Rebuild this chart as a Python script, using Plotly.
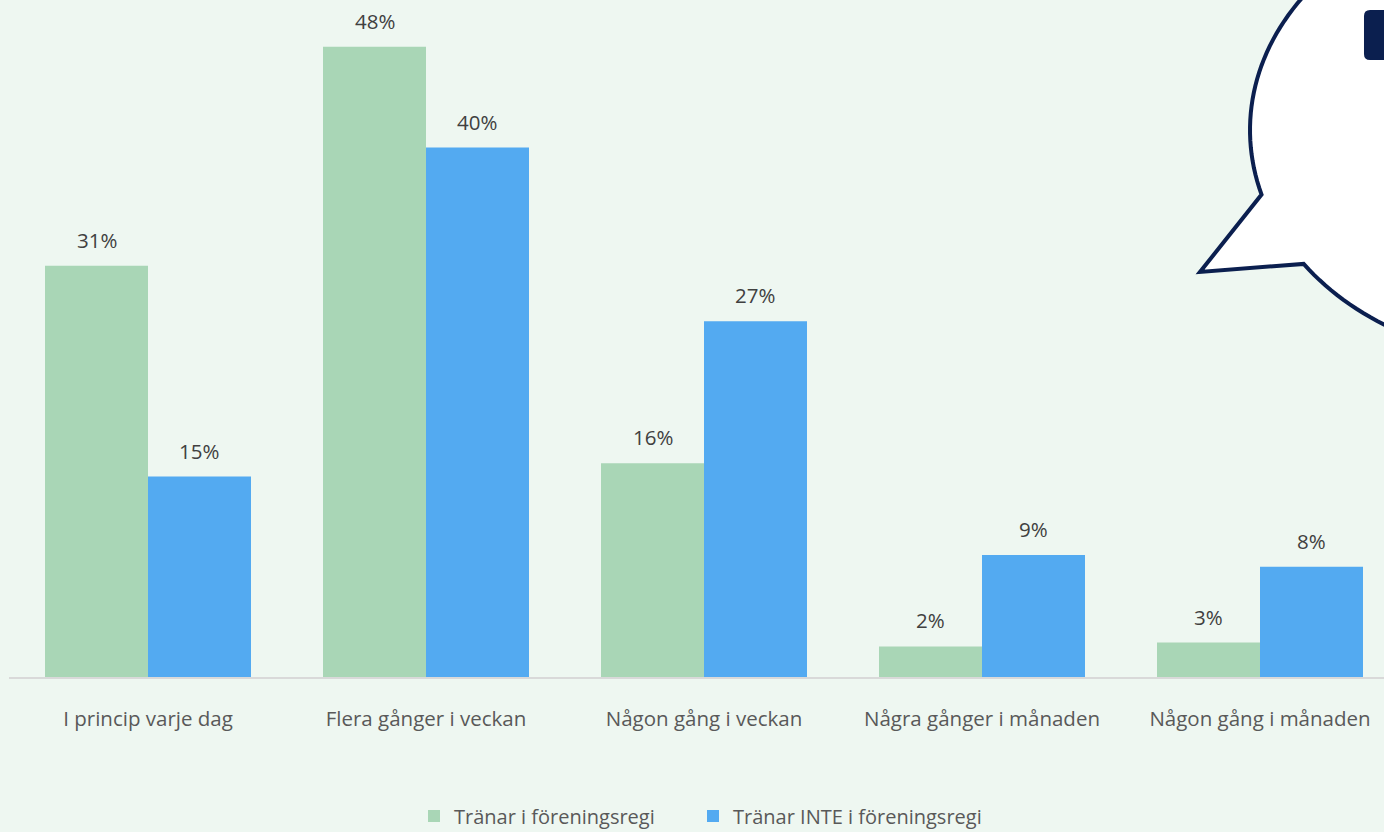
import numpy as np
import plotly.graph_objects as go

categories = ["I princip varje dag", "Flera gånger i veckan", "Någon gång i veckan",
              "Några gånger i månaden", "Någon gång i månaden"]
series_names = ["Tränar i föreningsregi", "Tränar INTE i föreningsregi"]
values_forening = [31.0, 47.5, 16.1, 2.3, 2.6]
values_inte = [15.1, 39.9, 26.8, 9.2, 8.3]
labels_forening = ["31%", "48%", "16%", "2%", "3%"]
labels_inte = ["15%", "40%", "27%", "9%", "8%"]

GREEN = "#A9D6B6"
BLUE = "#53AAF1"
BG = "#EEF7F1"
NAVY = "#0B1F4F"
FONT = "Open Sans, sans-serif"

W, H = 1384, 832
ML, MR, MT, MB = 9, 0, 0, 155
PW, PH = W - ML - MR, H - MT - MB
CAT_PX = 278.0
YMAX = PH / 13.27

fig = go.Figure()
fig.add_trace(go.Bar(x=categories, y=values_forening, name=series_names[0], legend="legend",
                     marker=dict(color=GREEN, line=dict(width=0))))
fig.add_trace(go.Bar(x=categories, y=values_inte, name=series_names[1], legend="legend2",
                     marker=dict(color=BLUE, line=dict(width=0))))

half = CAT_PX * (1 - 0.259) / 4
for vals, labs, sh in [(values_forening, labels_forening, -half), (values_inte, labels_inte, half)]:
    for c, v, t in zip(categories, vals, labs):
        fig.add_annotation(x=c, y=v, text=t, showarrow=False, xshift=sh, yshift=26,
                           yanchor="middle", font=dict(size=20.5, color="#404040", family=FONT))

# speech bubble decoration (pixel -> paper)
def px2paper(x, y):
    return (x - ML) / PW, (H - MB - y) / PH

cx, cy, a, b = 1537.0, 130.0, 287.0, 230.0
t1, t2 = np.deg2rad(163.7), np.deg2rad(360 + 144.4)
ts = np.linspace(t1, t2, 200)
pts = [(cx + a * np.cos(t), cy + b * np.sin(t)) for t in ts]
pts.append((1200.0, 272.0))
path = ""
for i, (x, y) in enumerate(pts):
    u, v = px2paper(x, y)
    path += ("M" if i == 0 else "L") + f"{u:.5f},{v:.5f} "
path += "Z"
fig.add_shape(type="path", path=path, xref="paper", yref="paper",
              fillcolor="white", line=dict(color=NAVY, width=4), layer="above")

# small dark rounded box at top right
x0, y0, x1, y1, r = 1364, 10, 1420, 60, 6
u0, v0 = px2paper(x0, y0)
u1, v1 = px2paper(x1, y1)
ur, vr = px2paper(x0 + r, y0 + r)
vr2 = px2paper(0, y1 - r)[1]
box = (f"M{ur:.5f},{v0:.5f} L{u1:.5f},{v0:.5f} L{u1:.5f},{v1:.5f} L{ur:.5f},{v1:.5f} "
       f"Q{u0:.5f},{v1:.5f} {u0:.5f},{vr2:.5f} "
       f"L{u0:.5f},{vr:.5f} Q{u0:.5f},{v0:.5f} {ur:.5f},{v0:.5f} Z")
fig.add_shape(type="path", path=box, xref="paper", yref="paper",
              fillcolor=NAVY, line=dict(color=NAVY, width=0), layer="above")

legend_common = dict(orientation="h", xanchor="left", y=-0.2055, yanchor="middle",
                     font=dict(size=20, color="#595959", family=FONT),
                     itemsizing="constant", itemwidth=30,
                     bgcolor="rgba(0,0,0,0)")
LEG1_PX, LEG2_PX = 428 - 14, 707 - 14

fig.update_layout(
    width=W, height=H,
    margin=dict(l=ML, r=MR, t=MT, b=MB, autoexpand=False),
    paper_bgcolor=BG, plot_bgcolor=BG,
    barmode="group", bargap=0.259, bargroupgap=0,
    showlegend=True,
    legend=dict(x=(LEG1_PX - ML) / PW, **legend_common),
    legend2=dict(x=(LEG2_PX - ML) / PW, **legend_common),
    xaxis=dict(range=[-0.5, -0.5 + PW / CAT_PX], showgrid=False, showline=True,
               linecolor="#D9D9D9", linewidth=2, ticks="", automargin=False,
               tickfont=dict(size=20.5, color="#595959", family=FONT),
               ticklabelstandoff=22, fixedrange=True),
    yaxis=dict(range=[0, YMAX], visible=False, showgrid=False, zeroline=False,
               automargin=False, fixedrange=True),
    font=dict(family=FONT),
)

fig.write_html("out.html", config={"displayModeBar": False},
               post_script="document.body.style.margin='0';document.body.style.background='#EEF7F1';")
